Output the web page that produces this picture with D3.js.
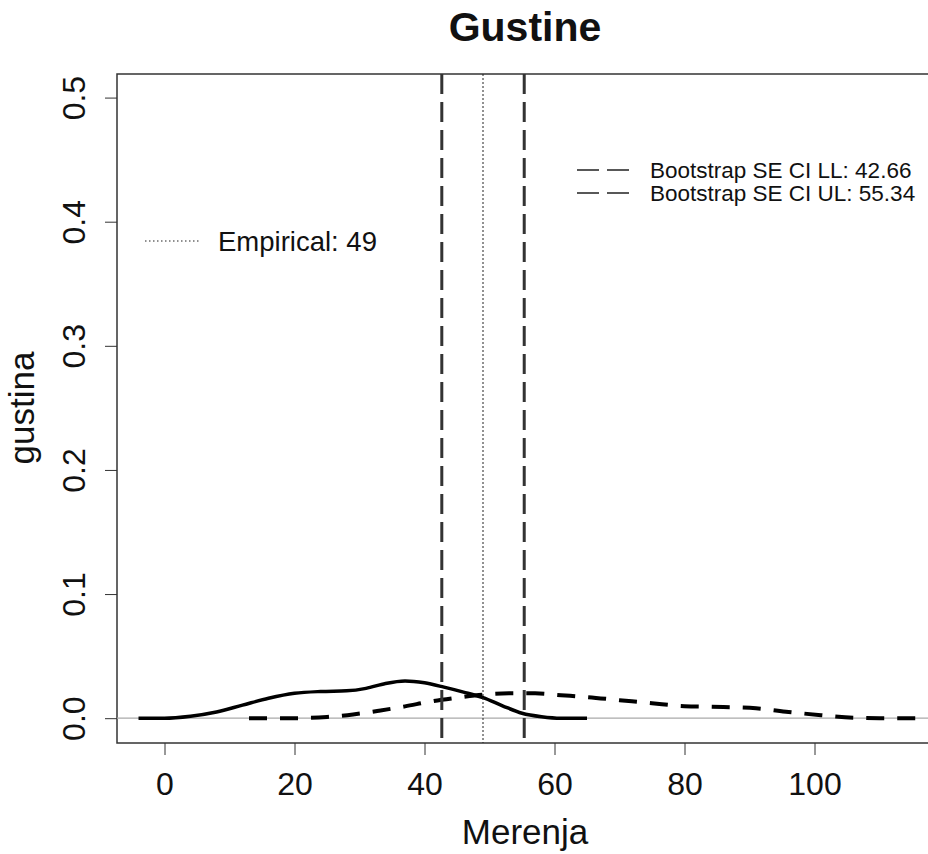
<!DOCTYPE html>
<html>
<head>
<meta charset="utf-8">
<script src="https://cdn.jsdelivr.net/npm/d3@7"></script>
<style>
  body { margin: 0; background: #fff; }
  svg { display: block; }
  text { font-family: "Liberation Sans", Arial, sans-serif; fill: #111; }
</style>
</head>
<body>
<svg width="928" height="854"></svg>
<script>
// Podaci (ocitano sa slike)
var xTicks = [0, 20, 40, 60, 80, 100];
var yTicks = [0, 0.1, 0.2, 0.3, 0.4, 0.5];

// empirijska gustina (puna linija)
var empX = [-4, 0, 4, 8, 12, 16, 20, 24, 28, 31, 34, 37, 40, 43, 46, 49, 52, 55, 58, 61, 65];
var empY = [0, 0, 0.0016, 0.005, 0.0105, 0.016, 0.0200, 0.0215, 0.0220, 0.0240, 0.0280, 0.0300, 0.0285, 0.0250, 0.0210, 0.0165, 0.0100, 0.0040, 0.0012, 0, 0];

// bootstrap gustina (isprekidana linija)
var bootX = [13, 20, 25, 29, 33, 37, 41, 45, 49, 53, 57, 61, 65, 70, 75, 80, 86, 91, 96, 101, 106, 110, 120];
var bootY = [0, 0, 0.001, 0.003, 0.006, 0.0095, 0.0135, 0.0165, 0.019, 0.0200, 0.0200, 0.0185, 0.0170, 0.0145, 0.0120, 0.0097, 0.0090, 0.0080, 0.0050, 0.0024, 0.0004, 0, 0];

var empirical = 49;
var ciLL = 42.66;
var ciUL = 55.34;

var svg = d3.select("svg");

// Skale
var x = d3.scaleLinear().domain([-7.31, 117.46]).range([117, 928]);
var y = d3.scaleLinear().domain([-0.02, 0.519]).range([743, 74]);

// Okvir
svg.append("rect")
  .attr("x", 117).attr("y", 74)
  .attr("width", 830).attr("height", 743 - 74)
  .attr("fill", "none")
  .attr("stroke", "#333")
  .attr("stroke-width", 1.5);

// Horizontalna linija na nuli
svg.append("line")
  .attr("x1", 117).attr("x2", 928)
  .attr("y1", y(0)).attr("y2", y(0))
  .attr("stroke", "#aaa")
  .attr("stroke-width", 1.2);

// Eje X
var xAxis = d3.axisBottom(x).tickValues(xTicks).tickSize(12).tickPadding(17).tickFormat(d3.format("d"));
var gx = svg.append("g")
  .attr("transform", "translate(0,743)")
  .call(xAxis);
gx.select(".domain").remove();
gx.selectAll(".tick line").attr("stroke", "#333");
gx.selectAll(".tick text")
  .style("font-size", "32px")
  .attr("fill", "#111");

// Eje Y
var yAxis = d3.axisLeft(y).tickValues(yTicks).tickSize(12).tickFormat(d3.format(".1f"));
var gy = svg.append("g")
  .attr("transform", "translate(117,0)")
  .call(yAxis);
gy.select(".domain").remove();
gy.selectAll(".tick line").attr("stroke", "#333");
gy.selectAll(".tick text")
  .attr("x", null).attr("dy", null)
  .attr("transform", "translate(-32,0) rotate(-90)")
  .attr("text-anchor", "middle")
  .style("font-size", "32px")
  .attr("fill", "#111");

// Linije gustine
var line = d3.line()
  .x(function (d) { return x(d[0]); })
  .y(function (d) { return y(d[1]); })
  .curve(d3.curveMonotoneX);

svg.append("path")
  .datum(d3.zip(empX, empY))
  .attr("d", line)
  .attr("fill", "none")
  .attr("stroke", "#000")
  .attr("stroke-width", 3.5);

svg.append("path")
  .datum(d3.zip(bootX, bootY))
  .attr("d", line)
  .attr("fill", "none")
  .attr("stroke", "#000")
  .attr("stroke-width", 4)
  .attr("stroke-dasharray", "18,13");

// Vertikalne linije
[ciLL, ciUL].forEach(function (v) {
  svg.append("line")
    .attr("x1", x(v)).attr("x2", x(v))
    .attr("y1", 74).attr("y2", 743)
    .attr("stroke", "#333")
    .attr("stroke-width", 3)
    .attr("stroke-dasharray", "20,8");
});

svg.append("line")
  .attr("x1", x(empirical)).attr("x2", x(empirical))
  .attr("y1", 74).attr("y2", 743)
  .attr("stroke", "#222")
  .attr("stroke-width", 1)
  .attr("stroke-dasharray", "2,2");

// Legenda - bootstrap
var legBoot = [
  { label: "Bootstrap SE CI LL: " + ciLL.toFixed(2), y: 170 },
  { label: "Bootstrap SE CI UL: " + ciUL.toFixed(2), y: 193 }
];
legBoot.forEach(function (d) {
  svg.append("line")
    .attr("x1", 577).attr("x2", 632)
    .attr("y1", d.y).attr("y2", d.y)
    .attr("stroke", "#222")
    .attr("stroke-width", 1.5)
    .attr("stroke-dasharray", "22,8");
  svg.append("text")
    .attr("x", 650).attr("y", d.y + 8)
    .style("font-size", "22.5px")
    .text(d.label);
});

// Legenda - empirical
svg.append("line")
  .attr("x1", 145).attr("x2", 200)
  .attr("y1", 241).attr("y2", 241)
  .attr("stroke", "#222")
  .attr("stroke-width", 1.2)
  .attr("stroke-dasharray", "1.5,2.5");
svg.append("text")
  .attr("x", 218).attr("y", 251)
  .style("font-size", "27.5px")
  .text("Empirical: " + empirical);

// Naslovi
svg.append("text")
  .attr("x", 525).attr("y", 41)
  .attr("text-anchor", "middle")
  .style("font-size", "41px")
  .style("font-weight", "bold")
  .text("Gustine");

svg.append("text")
  .attr("x", 525).attr("y", 844)
  .attr("text-anchor", "middle")
  .style("font-size", "35px")
  .text("Merenja");

svg.append("text")
  .attr("transform", "translate(34,408) rotate(-90)")
  .attr("text-anchor", "middle")
  .style("font-size", "35px")
  .text("gustina");
</script>
</body>
</html>
